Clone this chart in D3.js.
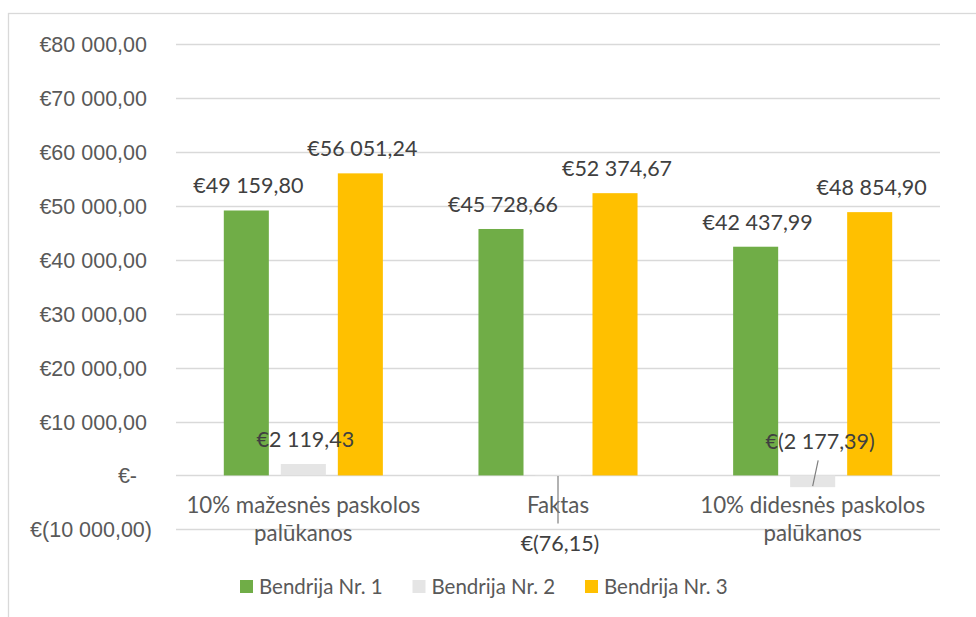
<!DOCTYPE html>
<html>
<head>
<meta charset="utf-8">
<script src="https://cdn.jsdelivr.net/npm/d3@7"></script>
<style>
  body { margin: 0; background: #fff; }
  svg { display: block; }
</style>
</head>
<body>
<div id="chart"></div>
<script>
// Chart data
var categories = ["10% mažesnės paskolos palūkanos", "Faktas", "10% didesnės paskolos palūkanos"];
var seriesNames = ["Bendrija Nr. 1", "Bendrija Nr. 2", "Bendrija Nr. 3"];
var bendrija1 = [49159.80, 45728.66, 42437.99];
var bendrija2 = [2119.43, -76.15, -2177.39];
var bendrija3 = [56051.24, 52374.67, 48854.90];
var yTicks = [-10000, 0, 10000, 20000, 30000, 40000, 50000, 60000, 70000, 80000];

var colors = ["#70AD47", "#E5E5E5", "#FFC000"];

var width = 976;
var height = 617;

// plot area
var plotLeft = 176, plotRight = 940;
var plotTop = 44.3, plotBottom = 529.3;

var svg = d3.select("#chart")
  .append("svg")
  .attr("width", width)
  .attr("height", height);

// chart frame (only left and top edges show in the picture)
svg.append("rect")
  .attr("x", 8.5)
  .attr("y", 13.5)
  .attr("width", 1000)
  .attr("height", 700)
  .attr("fill", "#fff")
  .attr("stroke", "#d9d9d9")
  .attr("stroke-width", 1.3);

// locale: space for thousands, comma for decimals
var lt = d3.formatLocale({ decimal: ",", thousands: "\u00a0", grouping: [3], currency: ["€", ""] });
var num = lt.format(",.2f");
function euro(v) {
  if (Math.abs(v) < 1e-9) return "€-";
  if (v < 0) return "€(" + num(-v) + ")";
  return "€" + num(v);
}

var y = d3.scaleLinear()
  .domain([-10000, 80000])
  .range([plotBottom, plotTop]);

var x0 = d3.scaleBand()
  .domain(categories)
  .range([plotLeft, plotRight])
  .padding(0);

var x1 = d3.scaleBand()
  .domain(seriesNames)
  .range([47.8, x0.bandwidth() - 47.8])
  .paddingInner(0.21);

// gridlines
svg.append("g")
  .selectAll("line")
  .data(yTicks)
  .enter()
  .append("line")
  .attr("x1", plotLeft)
  .attr("x2", plotRight)
  .attr("y1", function(d) { return Math.round(y(d)) + 0.5; })
  .attr("y2", function(d) { return Math.round(y(d)) + 0.5; })
  .attr("stroke", "#d9d9d9")
  .attr("stroke-width", 1.3);

// y axis labels
var yAxis = d3.axisLeft(y)
  .tickValues(yTicks)
  .tickSize(0)
  .tickPadding(0)
  .tickFormat(euro);

var yG = svg.append("g")
  .attr("transform", "translate(152,0)")
  .call(yAxis);
yG.select(".domain").remove();
yG.selectAll("text")
  .attr("font-family", "'Liberation Sans', Arial, sans-serif")
  .attr("font-size", "21.5px")
  .attr("fill", "#595959")
  .attr("dy", "0.35em")
  // accounting format pads positives and the dash on the right
  .attr("dx", function(d) { return d < 0 ? 0 : (d === 0 ? -15 : -5); });

// bars
var rows = [];
categories.forEach(function(c, i) {
  rows.push({ cat: c, series: seriesNames[0], value: bendrija1[i], color: colors[0] });
  rows.push({ cat: c, series: seriesNames[1], value: bendrija2[i], color: colors[1] });
  rows.push({ cat: c, series: seriesNames[2], value: bendrija3[i], color: colors[2] });
});

function barX(d) { return x0(d.cat) + x1(d.series); }
function barCx(d) { return barX(d) + x1.bandwidth() / 2; }

svg.append("g")
  .selectAll("rect")
  .data(rows)
  .enter()
  .append("rect")
  .attr("x", barX)
  .attr("width", x1.bandwidth())
  .attr("y", function(d) { return y(Math.max(0, d.value)); })
  .attr("height", function(d) { return Math.abs(y(d.value) - y(0)); })
  .attr("fill", function(d) { return d.color; });

// category labels, wrapped to the band width
var catG = svg.append("g");
categories.forEach(function(c) {
  var cx = x0(c) + x0.bandwidth() / 2;
  var t = catG.append("text")
    .attr("x", cx)
    .attr("y", 513)
    .attr("text-anchor", "middle")
    .attr("font-family", "Lato, 'Open Sans', sans-serif")
    .attr("font-size", "22.3px")
    .attr("fill", "#595959");
  var words = c.split(" ");
  var line = [];
  var tspan = t.append("tspan").attr("x", cx).attr("dy", 0);
  words.forEach(function(w) {
    line.push(w);
    tspan.text(line.join(" "));
    if (tspan.node().getComputedTextLength() > 250 && line.length > 1) {
      line.pop();
      tspan.text(line.join(" "));
      line = [w];
      tspan = t.append("tspan")
        .attr("x", cx)
        .attr("dy", 28)
        .text(w);
    }
  });
});

// data labels; two negative ones were dragged off their bars with leader lines
var moved = {
  "Faktas|Bendrija Nr. 2": { dx: 2, base: 76, leadFrom: 0, leadTo: 48, leadDx: 0 },
  "10% didesnės paskolos palūkanos|Bendrija Nr. 2": { dx: 7.5, base: -26, leadFrom: -15, leadTo: null, leadDx: 5.5 }
};

var labelG = svg.append("g");
var leaderG = svg.append("g");
rows.forEach(function(d) {
  var key = d.cat + "|" + d.series;
  var m = moved[key];
  var cx = barCx(d);
  var lx, ly;
  if (m) {
    lx = cx + m.dx;
    ly = y(0) + m.base;
    var endY = m.leadTo === null ? y(d.value) - 1 : y(0) + m.leadTo;
    leaderG.append("line")
      .attr("x1", cx + m.leadDx)
      .attr("y1", y(0) + m.leadFrom + (m.leadFrom === 0 ? 0.5 : 0))
      .attr("x2", cx)
      .attr("y2", endY)
      .attr("stroke", "#7f7f7f")
      .attr("stroke-width", 1.2);
  } else {
    lx = cx + 2;
    ly = y(d.value) - 17;
  }
  labelG.append("text")
    .attr("x", lx)
    .attr("y", ly)
    .attr("text-anchor", "middle")
    .attr("font-family", "Lato, 'Open Sans', sans-serif")
    .attr("font-size", "21.5px")
    .attr("fill", "#404040")
    .text(euro(d.value));
});

// legend
var legend = svg.append("g")
  .selectAll("g")
  .data(seriesNames)
  .enter()
  .append("g")
  .attr("transform", function(d, i) { return "translate(" + (240 + i * 172.5) + ",580)"; });

legend.append("rect")
  .attr("width", 13)
  .attr("height", 13)
  .attr("fill", function(d, i) { return colors[i]; });

legend.append("text")
  .attr("x", 19)
  .attr("y", 6.5)
  .attr("dy", "0.35em")
  .attr("font-family", "Lato, 'Open Sans', sans-serif")
  .attr("font-size", "20.5px")
  .attr("fill", "#595959")
  .text(function(d) { return d; });
</script>
</body>
</html>
